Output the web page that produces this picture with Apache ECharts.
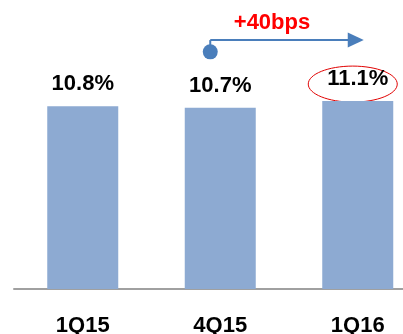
<!DOCTYPE html>
<html><head><meta charset="utf-8">
<script src="https://cdn.jsdelivr.net/npm/echarts@6/dist/echarts.min.js"></script>
<style>html,body{margin:0;padding:0;background:#fff}#c{width:403px;height:334px}</style>
</head><body><div id="c"></div>
<script>
const categories = ['1Q15', '4Q15', '1Q16'];
const values = [10.8, 10.7, 11.1];
const valueLabels = ['10.8%', '10.7%', '11.1%'];
const deltaLabel = '+40bps';

const FONT = '"Liberation Sans", Arial, sans-serif';
const chart = echarts.init(document.getElementById('c'));
chart.setOption({
  animation: false,
  grid: { left: 14, width: 412.5, top: 52, height: 237, containLabel: false, outerBoundsMode: 'none' },
  xAxis: {
    type: 'category', data: categories,
    axisLine: { lineStyle: { color: '#A0A0A0', width: 2 } },
    axisTick: { show: false },
    axisLabel: { margin: 26, fontSize: 22, fontWeight: 'bold', color: '#000', fontFamily: FONT }
  },
  yAxis: { type: 'value', min: 0, max: 14, show: false, splitLine: { show: false } },
  series: [{
    type: 'bar', data: values, barWidth: 71,
    itemStyle: { color: '#8DAAD2' },
    label: {
      show: true, position: 'top', distance: 11,
      formatter: p => valueLabels[p.dataIndex],
      fontSize: 22, fontWeight: 'bold', color: '#000', fontFamily: FONT
    }
  }]
});

const p1 = chart.convertToPixel({ seriesIndex: 0 }, [1, values[1]]);
const p2 = chart.convertToPixel({ seriesIndex: 0 }, [2, values[2]]);
const blue = '#4A7EBB';
const sx = p1[0] - 10, ly = p2[1] - 61, cy = p1[1] - 56;
const tipX = p2[0] + 6;
chart.setOption({
  graphic: [
    { type: 'line', shape: { x1: sx, y1: ly, x2: tipX - 14, y2: ly }, style: { stroke: blue, lineWidth: 2 } },
    { type: 'line', shape: { x1: sx, y1: ly, x2: sx, y2: cy }, style: { stroke: blue, lineWidth: 2 } },
    { type: 'circle', shape: { cx: sx, cy: cy, r: 7.5 }, style: { fill: blue } },
    { type: 'polygon', shape: { points: [[tipX - 16, ly - 7.5], [tipX, ly], [tipX - 16, ly + 7.5]] }, style: { fill: blue } },
    { type: 'text', x: (sx + tipX) / 2 - 15, y: ly - 17, style: { text: deltaLabel, fill: '#FF0000', font: 'bold 22px ' + FONT, align: 'center', verticalAlign: 'middle' } },
    { type: 'ellipse', shape: { cx: p2[0] - 5, cy: p2[1] - 17, rx: 44.5, ry: 18 }, style: { fill: 'none', stroke: '#E00000', lineWidth: 1 } }
  ]
});
</script></body></html>
